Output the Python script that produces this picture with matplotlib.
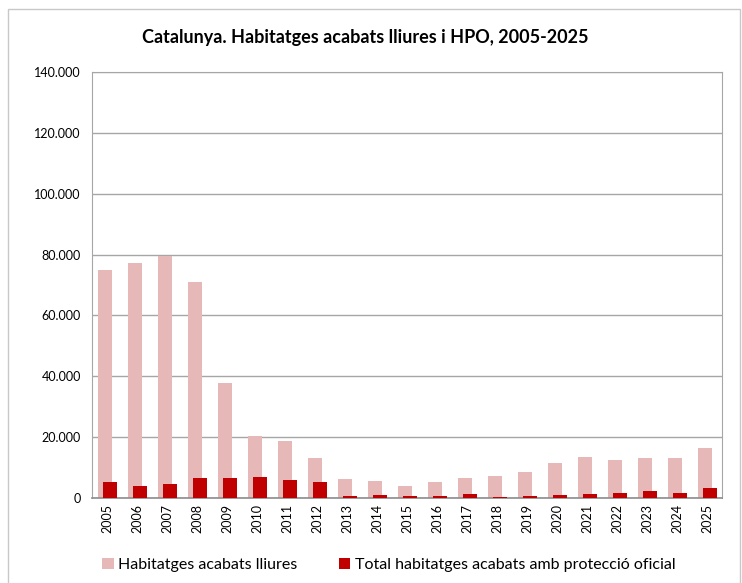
import matplotlib
matplotlib.use("Agg")
import matplotlib.pyplot as plt
from matplotlib.patches import Rectangle
from matplotlib.ticker import FuncFormatter

years = [str(y) for y in range(2005, 2026)]
lliures = [75000, 77200, 79600, 71000, 37900, 20300, 18700, 13000, 6100, 5500, 3900,
           5400, 6700, 7300, 8700, 11500, 13400, 12600, 13200, 13000, 16300]
hpo = [5100, 3800, 4500, 6500, 6500, 6900, 5900, 5200, 800, 1000, 500,
       700, 1200, 400, 800, 1000, 1300, 1500, 2200, 1800, 3300]

plt.rcParams['font.family'] = ['Lato', 'DejaVu Sans']

fig = plt.figure(figsize=(7.42, 5.83), dpi=100)
W, H = 742, 583
ax = fig.add_axes([92 / W, 1 - 498 / H, (722 - 92) / W, (498 - 72) / H])

# outer frame
fig.patches.append(Rectangle((8 / W, -0.01), (740 - 8) / W, 1 - 9 / H + 0.01,
                             transform=fig.transFigure, fill=False,
                             edgecolor='#c8c8c8', linewidth=1.0))

x = range(len(years))
xp = [i - 0.08 for i in x]
xr = [i + 0.1 for i in x]
ax.bar(xp, lliures, width=0.47, color='#e6b8b7', edgecolor='none', zorder=2,
       label='Habitatges acabats lliures')
ax.bar(xr, hpo, width=0.47, color='#c00000', edgecolor='none', zorder=3,
       label='Total habitatges acabats amb protecció oficial')

ax.set_xlim(-0.5, len(years) - 0.5)
ax.set_ylim(0, 140000)
ax.set_yticks(range(0, 140001, 20000))
ax.yaxis.set_major_formatter(FuncFormatter(lambda v, p: '0' if v == 0 else f"{int(v):,}".replace(',', '.')))
ax.set_xticks(list(x))
ax.set_xticklabels(years, rotation=90, fontsize=9)
ax.tick_params(axis='y', labelsize=9, length=0, pad=8)
ax.tick_params(axis='x', length=0, pad=4)
ax.grid(axis='y', color='#a6a6a6', linewidth=1.0, zorder=0)
ax.set_axisbelow(True)
for s in ['left', 'right', 'top']:
    ax.spines[s].set_color('#a6a6a6')
ax.spines['bottom'].set_color('#8c8c8c')
ax.spines['bottom'].set_linewidth(1.2)

fig.text(365 / W, 1 - 37 / H, 'Catalunya. Habitatges acabats lliures i HPO, 2005-2025',
         ha='center', va='center', fontsize=13, fontweight='bold')

fig.legend(loc='center', bbox_to_anchor=(389 / W, 1 - 565 / H), ncol=2, frameon=False,
           fontsize=11.5, handlelength=0.7, handleheight=0.7, handletextpad=0.3,
           columnspacing=2.6)

fig.savefig('out.png', dpi=100)
